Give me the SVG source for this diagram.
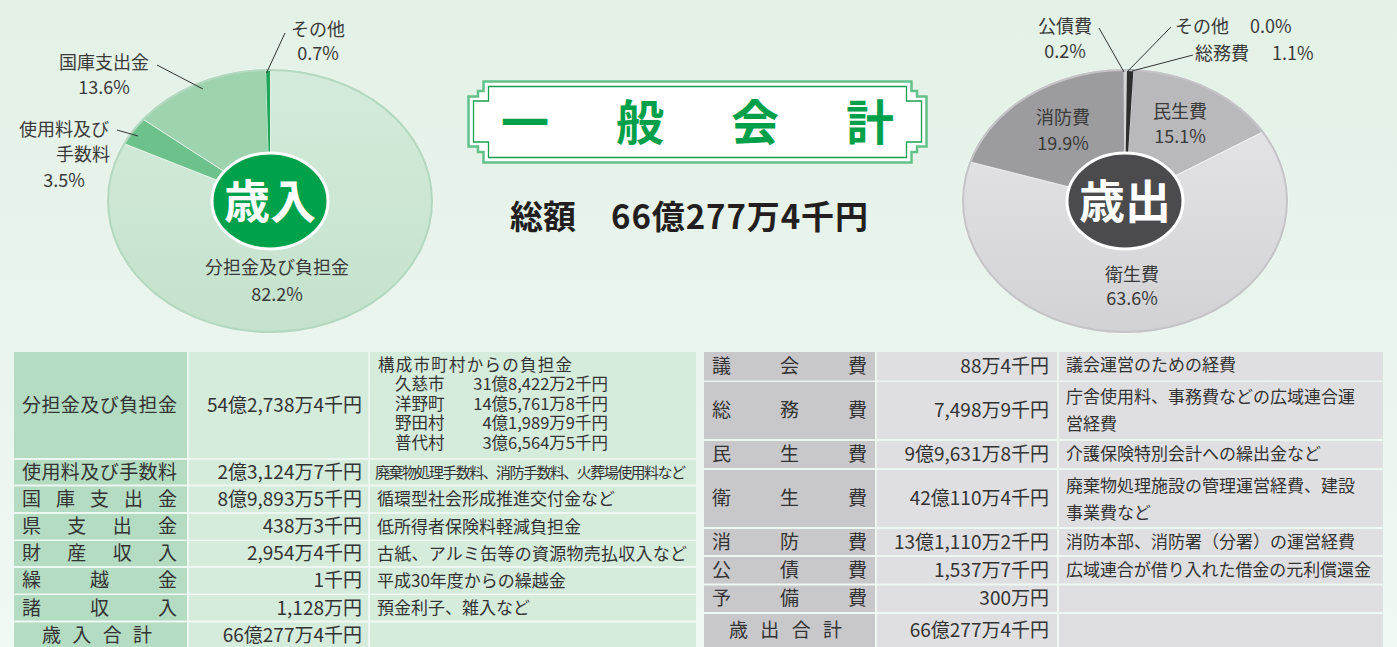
<svg xmlns="http://www.w3.org/2000/svg" width="1397" height="647" viewBox="0 0 1397 647">
<defs>
<linearGradient id="bg" x1="0" y1="0" x2="0" y2="1"><stop offset="0" stop-color="#e3f1e6"/><stop offset="1" stop-color="#f0f8f3"/></linearGradient>
<linearGradient id="gBig" x1="0" y1="0" x2="0" y2="1"><stop offset="0" stop-color="#d4ebdb"/><stop offset="1" stop-color="#c4e2cc"/></linearGradient>
<linearGradient id="gHyg" x1="0" y1="0" x2="0" y2="1"><stop offset="0" stop-color="#e3e3e5"/><stop offset="1" stop-color="#d2d2d4"/></linearGradient>
</defs>
<style>
.lbl{font-family:"Noto Sans CJK JP","Noto Sans",sans-serif;font-size:18px;fill:#3a3a3a}
.mid{text-anchor:middle}
.ld{stroke:#333;stroke-width:1;fill:none}
.sep{stroke:#ffffff;stroke-opacity:0.6;stroke-width:1}
.t{font-family:"Noto Sans CJK JP","Noto Sans",sans-serif;font-size:17px;fill:#333}
.s{font-size:16.5px}
.h{font-size:19px}
.amt{font-size:19px;text-anchor:end}
.end{text-anchor:end}
.cg1{fill:#b3dcc2}.cg2{fill:#d5ebdc}
.cr1{fill:#c8c8ca}.cr2{fill:#dfdfe1}
.badge{font-family:"Noto Sans CJK JP",sans-serif;font-weight:bold;font-size:46px;fill:#ffffff;text-anchor:middle}
</style>
<rect x="0" y="0" width="1397" height="647" fill="url(#bg)"/>

<g id="pie-revenue">
<ellipse cx="270" cy="201" rx="163" ry="132" fill="#c2e0cb"/>
<path class="sep" d="M270,201 L270,69 A163,132 0 1 1 123.4,143.3 Z" fill="url(#gBig)"/>
<path class="sep" d="M270,201 L123.4,143.3 A163,132 0 0 1 142.4,118.8 Z" fill="#6dc28b"/>
<path class="sep" d="M270,201 L142.4,118.8 A163,132 0 0 1 266,69.04 Z" fill="#9dd3ae"/>
<path d="M270,201 L266,69.04 A163,132 0 0 1 270,69 Z" fill="#1fa658"/>
<ellipse cx="270" cy="201" rx="162" ry="131" fill="none" stroke="#b4d8bf" stroke-width="2"/>
<ellipse cx="270" cy="201" rx="58" ry="48" fill="#00a14b" stroke="#ffffff" stroke-width="3"/>
<text class="badge" x="270" y="218">歳入</text>
<text class="lbl mid" x="318" y="36">その他</text>
<text class="lbl mid" x="318" y="60">0.7%</text>
<text class="lbl mid" x="104" y="69">国庫支出金</text>
<text class="lbl mid" x="104" y="94">13.6%</text>
<text class="lbl mid" x="64" y="136">使用料及び</text>
<text class="lbl mid" x="83" y="161">手数料</text>
<text class="lbl mid" x="64" y="187">3.5%</text>
<text class="lbl mid" x="277" y="274">分担金及び負担金</text>
<text class="lbl mid" x="277" y="301">82.2%</text>
</g>

<g id="pie-expenditure">
<ellipse cx="1125" cy="201" rx="163" ry="132" fill="#d0d0d2"/>
<path class="sep" d="M1125,201 L1133.5,69.18 A163,132 0 0 1 1263.7,131.6 Z" fill="#b9b9bb"/>
<path class="sep" d="M1125,201 L1263.7,131.6 A163,132 0 1 1 969.4,161.7 Z" fill="url(#gHyg)"/>
<path class="sep" d="M1125,201 L969.4,161.7 A163,132 0 0 1 1124,69.0 Z" fill="#9c9c9e"/>
<path d="M1125,201 L1124,69.0 A163,132 0 0 1 1127,69.0 Z" fill="#d4d4d4"/>
<path d="M1125,201 L1127,69.0 A163,132 0 0 1 1133.5,69.18 Z" fill="#2e2e2e"/>
<ellipse cx="1125" cy="201" rx="162" ry="131" fill="none" stroke="#c4c4c6" stroke-width="2"/>
<ellipse cx="1125" cy="201" rx="58" ry="48" fill="#4b4b4d" stroke="#ffffff" stroke-width="3"/>
<text class="badge" x="1125" y="218">歳出</text>
<text class="lbl mid" x="1065" y="33">公債費</text>
<text class="lbl mid" x="1065" y="58">0.2%</text>
<text class="lbl" x="1175" y="33">その他<tspan x="1250">0.0%</tspan></text>
<text class="lbl" x="1195" y="60">総務費<tspan x="1272">1.1%</tspan></text>
<text class="lbl mid" x="1180" y="118">民生費</text>
<text class="lbl mid" x="1180" y="143">15.1%</text>
<text class="lbl mid" x="1063" y="124">消防費</text>
<text class="lbl mid" x="1063" y="150">19.9%</text>
<text class="lbl mid" x="1132" y="281">衛生費</text>
<text class="lbl mid" x="1132" y="305">63.6%</text>
</g>

<g id="connectors">
<line class="ld" x1="285" y1="33" x2="266.5" y2="73"/>
<line class="ld" x1="157" y1="65" x2="203" y2="89"/>
<line class="ld" x1="117" y1="130" x2="138" y2="136"/>
<line class="ld" x1="1099" y1="28" x2="1124" y2="72"/>
<line class="ld" x1="1171" y1="27" x2="1127" y2="72"/>
<line class="ld" x1="1193" y1="55" x2="1132" y2="71"/>
</g>

<g id="title">
<path d="M483.5,81.5 H911.5 V91 H917 V96.5 H926.5 V146.5 H917 V152 H911.5 V162.5 H483.5 V152 H478 V146.5 H468.5 V96.5 H478 V91 H483.5 Z" fill="#ffffff" stroke="#62c18a" stroke-width="2.5"/>
<path d="M488.5,86.5 H906.5 V101 H921.5 V142 H906.5 V157.5 H488.5 V142 H473.5 V101 H488.5 Z" fill="#ffffff" stroke="#17a04f" stroke-width="1.3"/>
<g font-family="'Noto Sans CJK JP',sans-serif" font-weight="bold" font-size="48" fill="#00a04b" text-anchor="middle">
<text x="525" y="140">一</text>
<text x="640" y="140">般</text>
<text x="755" y="140">会</text>
<text x="870" y="140">計</text>
</g>
</g>

<g id="total">
<text font-family="'Noto Sans CJK JP',sans-serif" font-weight="bold" font-size="33" fill="#231f20" x="510" y="229">総額<tspan x="611" textLength="257">66億277万4千円</tspan></text>
</g>

<g id="table-revenue">
<rect x="14" y="352" width="173" height="106" class="cg1"/><rect x="189" y="352" width="179" height="106" class="cg2"/><rect x="370" y="352" width="326" height="106" class="cg2"/>
<rect x="14" y="460" width="173" height="24.5" class="cg1"/><rect x="189" y="460" width="179" height="24.5" class="cg2"/><rect x="370" y="460" width="326" height="24.5" class="cg2"/>
<rect x="14" y="486.5" width="173" height="25.5" class="cg1"/><rect x="189" y="486.5" width="179" height="25.5" class="cg2"/><rect x="370" y="486.5" width="326" height="25.5" class="cg2"/>
<rect x="14" y="514" width="173" height="25.5" class="cg1"/><rect x="189" y="514" width="179" height="25.5" class="cg2"/><rect x="370" y="514" width="326" height="25.5" class="cg2"/>
<rect x="14" y="541" width="173" height="25" class="cg1"/><rect x="189" y="541" width="179" height="25" class="cg2"/><rect x="370" y="541" width="326" height="25" class="cg2"/>
<rect x="14" y="568" width="173" height="25.5" class="cg1"/><rect x="189" y="568" width="179" height="25.5" class="cg2"/><rect x="370" y="568" width="326" height="25.5" class="cg2"/>
<rect x="14" y="595" width="173" height="25.5" class="cg1"/><rect x="189" y="595" width="179" height="25.5" class="cg2"/><rect x="370" y="595" width="326" height="25.5" class="cg2"/>
<rect x="14" y="622.5" width="173" height="24.5" class="cg1"/><rect x="189" y="622.5" width="179" height="24.5" class="cg2"/><rect x="370" y="622.5" width="326" height="24.5" class="cg2"/>

<text class="t h" x="22" y="412" textLength="155">分担金及び負担金</text>
<text class="t h" x="22" y="478.5" textLength="155">使用料及び手数料</text>
<text class="t h" x="22 56 90 124 158" y="505.5">国庫支出金</text>
<text class="t h" x="22 67.3 112.7 158" y="533">県支出金</text>
<text class="t h" x="22 67.3 112.7 158" y="560">財産収入</text>
<text class="t h" x="22 90 158" y="587">繰越金</text>
<text class="t h" x="22 90 158" y="614.5">諸収入</text>
<text class="t h" x="42 72.3 102.7 133" y="641.5">歳入合計</text>

<text class="t amt" x="362" y="412">54億2,738万4千円</text>
<text class="t amt" x="362" y="478.5">2億3,124万7千円</text>
<text class="t amt" x="362" y="505.5">8億9,893万5千円</text>
<text class="t amt" x="362" y="533">438万3千円</text>
<text class="t amt" x="362" y="560">2,954万4千円</text>
<text class="t amt" x="362" y="587">1千円</text>
<text class="t amt" x="362" y="614.5">1,128万円</text>
<text class="t amt" x="362" y="641.5">66億277万4千円</text>

<text class="t s"><tspan x="378" y="370.5" textLength="194">構成市町村からの負担金</tspan><tspan x="395" y="390">久慈市</tspan><tspan class="end" x="608" y="390">31億8,422万2千円</tspan><tspan x="395" y="409.5">洋野町</tspan><tspan class="end" x="608" y="409.5">14億5,761万8千円</tspan><tspan x="395" y="429">野田村</tspan><tspan class="end" x="608" y="429">4億1,989万9千円</tspan><tspan x="395" y="448.5">普代村</tspan><tspan class="end" x="608" y="448.5">3億6,564万5千円</tspan></text>
<text class="t" x="375" y="477.5" style="font-size:15px" textLength="311">廃棄物処理手数料、消防手数料、火葬場使用料など</text>
<text class="t" x="377" y="505">循環型社会形成推進交付金など</text>
<text class="t" x="377" y="532.5">低所得者保険料軽減負担金</text>
<text class="t" x="377" y="559.5" textLength="310">古紙、アルミ缶等の資源物売払収入など</text>
<text class="t" x="377" y="586.5">平成30年度からの繰越金</text>
<text class="t" x="377" y="614">預金利子、雑入など</text>
</g>

<g id="table-expenditure">
<rect x="704" y="352" width="171" height="28.5" class="cr1"/><rect x="877" y="352" width="180" height="28.5" class="cr2"/><rect x="1059" y="352" width="324" height="28.5" class="cr2"/>
<rect x="704" y="382" width="171" height="57" class="cr1"/><rect x="877" y="382" width="180" height="57" class="cr2"/><rect x="1059" y="382" width="324" height="57" class="cr2"/>
<rect x="704" y="441" width="171" height="27" class="cr1"/><rect x="877" y="441" width="180" height="27" class="cr2"/><rect x="1059" y="441" width="324" height="27" class="cr2"/>
<rect x="704" y="470" width="171" height="57" class="cr1"/><rect x="877" y="470" width="180" height="57" class="cr2"/><rect x="1059" y="470" width="324" height="57" class="cr2"/>
<rect x="704" y="529" width="171" height="26" class="cr1"/><rect x="877" y="529" width="180" height="26" class="cr2"/><rect x="1059" y="529" width="324" height="26" class="cr2"/>
<rect x="704" y="557" width="171" height="26.5" class="cr1"/><rect x="877" y="557" width="180" height="26.5" class="cr2"/><rect x="1059" y="557" width="324" height="26.5" class="cr2"/>
<rect x="704" y="585.5" width="171" height="26.5" class="cr1"/><rect x="877" y="585.5" width="180" height="26.5" class="cr2"/><rect x="1059" y="585.5" width="324" height="26.5" class="cr2"/>
<rect x="704" y="614" width="171" height="33" class="cr1"/><rect x="877" y="614" width="180" height="33" class="cr2"/><rect x="1059" y="614" width="324" height="33" class="cr2"/>

<text class="t h" x="712 780 848" y="372.5">議会費</text>
<text class="t h" x="712 780 848" y="417">総務費</text>
<text class="t h" x="712 780 848" y="461">民生費</text>
<text class="t h" x="712 780 848" y="505">衛生費</text>
<text class="t h" x="712 780 848" y="548.5">消防費</text>
<text class="t h" x="712 780 848" y="576.5">公債費</text>
<text class="t h" x="712 780 848" y="605">予備費</text>
<text class="t h" x="729 760.3 791.7 823" y="637">歳出合計</text>

<text class="t amt" x="1049" y="372.5">88万4千円</text>
<text class="t amt" x="1049" y="417">7,498万9千円</text>
<text class="t amt" x="1049" y="461">9億9,631万8千円</text>
<text class="t amt" x="1049" y="505">42億110万4千円</text>
<text class="t amt" x="1049" y="548.5">13億1,110万2千円</text>
<text class="t amt" x="1049" y="576.5">1,537万7千円</text>
<text class="t amt" x="1049" y="605">300万円</text>
<text class="t amt" x="1049" y="637">66億277万4千円</text>

<text class="t" x="1066" y="371">議会運営のための経費</text>
<text class="t"><tspan x="1066" y="402.5">庁舎使用料、事務費などの広域連合運</tspan><tspan x="1066" y="430">営経費</tspan></text>
<text class="t" x="1066" y="460">介護保険特別会計への繰出金など</text>
<text class="t"><tspan x="1066" y="491.5">廃棄物処理施設の管理運営経費、建設</tspan><tspan x="1066" y="518.5">事業費など</tspan></text>
<text class="t" x="1066" y="548">消防本部、消防署（分署）の運営経費</text>
<text class="t" x="1066" y="576" textLength="305">広域連合が借り入れた借金の元利償還金</text>
</g>
</svg>
